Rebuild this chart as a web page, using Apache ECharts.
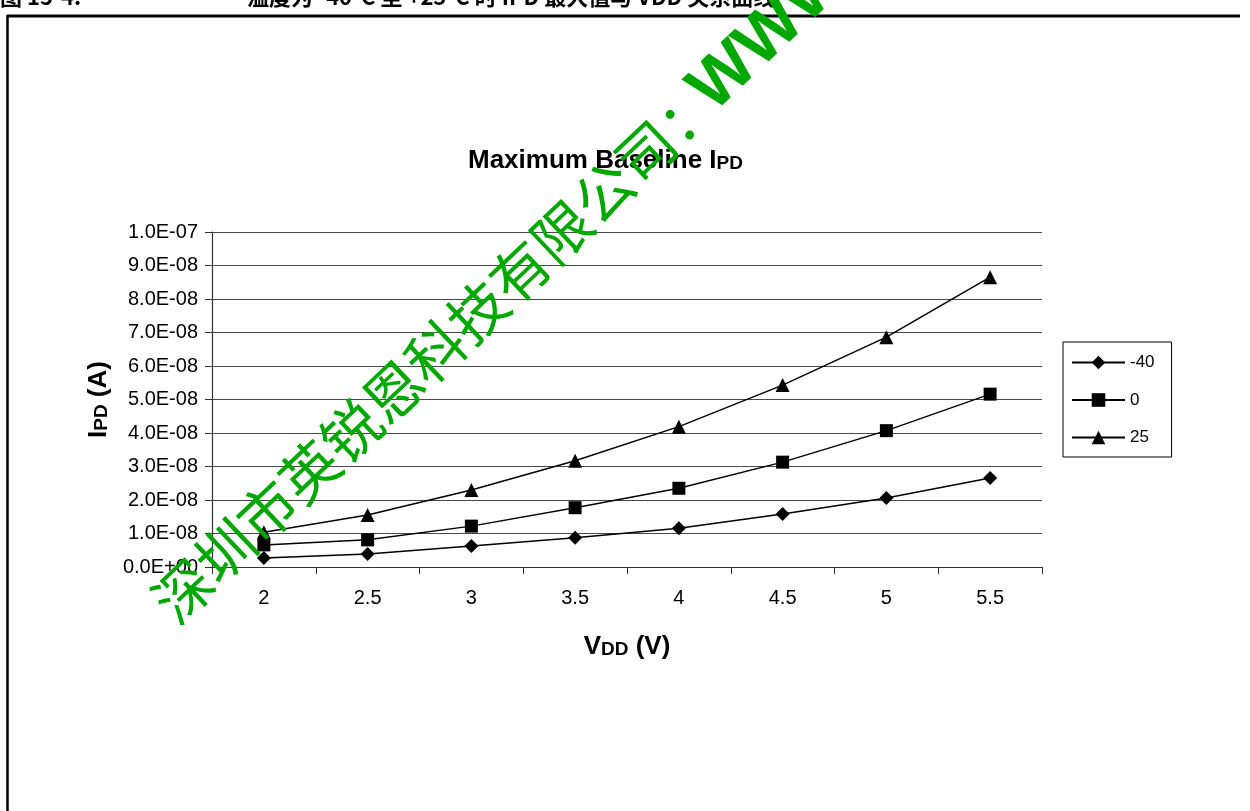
<!DOCTYPE html>
<html>
<head>
<meta charset="utf-8">
<script src="https://cdn.jsdelivr.net/npm/echarts@6/dist/echarts.min.js"></script>
<style>
html,body{margin:0;padding:0;background:#fff;}
#chart{width:1250px;height:811px;}
</style>
</head>
<body>
<div id="chart"></div>
<script>
// ---- data ----
const xCategories = ['2', '2.5', '3', '3.5', '4', '4.5', '5', '5.5'];
const seriesNames = ['-40', '0', '25'];
const ipdMinus40 = [2.7e-9, 3.9e-9, 6.3e-9, 8.7e-9, 1.16e-8, 1.58e-8, 2.06e-8, 2.66e-8];
const ipdZero = [6.6e-9, 8.1e-9, 1.22e-8, 1.77e-8, 2.35e-8, 3.13e-8, 4.07e-8, 5.16e-8];
const ipd25 = [1.04e-8, 1.55e-8, 2.3e-8, 3.17e-8, 4.19e-8, 5.43e-8, 6.86e-8, 8.65e-8];
const yTickLabels = ['0.0E+00', '1.0E-08', '2.0E-08', '3.0E-08', '4.0E-08', '5.0E-08',
                     '6.0E-08', '7.0E-08', '8.0E-08', '9.0E-08', '1.0E-07'];
const headerLeft = '图 15-4:';
const headerText = '温度为 -40°C 至 +25°C 时 IPD 最大值与 VDD 关系曲线';
const watermarkCn = '深圳市英锐恩科技有限公司';
const watermarkEn = 'WWW.ENROO.COM';

const FONT = 'Liberation Sans, Arial, sans-serif';
const GREEN = '#00a800';
const ROT = 43.5 * Math.PI / 180;
const dirX = Math.cos(ROT), dirY = -Math.sin(ROT);
const wmSize = 58;
const wmX = 162, wmY = 611;
const wmEndX = wmX + wmSize * watermarkCn.length * dirX;
const wmEndY = wmY + wmSize * watermarkCn.length * dirY;

const chart = echarts.init(document.getElementById('chart'), null, {renderer: 'canvas'});

function mkSeries(name, data, symbol, size) {
  return {
    name: name, type: 'line', data: data,
    symbol: symbol, symbolSize: size,
    lineStyle: {color: '#000', width: 1.5},
    itemStyle: {color: '#000'},
    emphasis: {disabled: true},
    animation: false
  };
}

const richName = {
  a: {fontFamily: FONT, fontSize: 26, fontWeight: 'bold', color: '#000', verticalAlign: 'bottom'},
  b: {fontFamily: FONT, fontSize: 19, fontWeight: 'bold', color: '#000', verticalAlign: 'bottom', padding: [0, 0, 1, 0]}
};

const option = {
  backgroundColor: '#fff',
  animation: false,
  title: {
    text: '{a|Maximum Baseline I}{b|PD}',
    left: 463, top: 143,
    textStyle: {rich: richName}
  },
  legend: {
    orient: 'vertical',
    left: 1063, top: 342,
    padding: [12, 17, 11, 8],
    itemWidth: 53, itemHeight: 17, itemGap: 20.5,
    borderColor: '#000', borderWidth: 1,
    textStyle: {fontFamily: FONT, fontSize: 17, color: '#000'},
    data: seriesNames
  },
  grid: {left: 212, right: 208, top: 232, bottom: 244, containLabel: false},
  xAxis: {
    type: 'category',
    data: xCategories,
    boundaryGap: true,
    name: '{a|V}{b|DD}{a| (V)}',
    nameLocation: 'middle',
    nameGap: 67,
    nameTextStyle: {verticalAlign: 'top', rich: richName},
    axisLine: {lineStyle: {color: '#333', width: 1.2}},
    axisTick: {show: true, length: 7, inside: false, alignWithLabel: false, lineStyle: {color: '#333'}},
    axisLabel: {fontFamily: FONT, fontSize: 20, color: '#000', margin: 21},
    splitLine: {show: false}
  },
  yAxis: {
    type: 'value',
    min: 0, max: 1e-7, interval: 1e-8,
    name: '{a|I}{b|PD}{a| (A)}',
    nameLocation: 'middle',
    nameGap: 98,
    nameRotate: 90,
    nameTextStyle: {rich: richName},
    axisLine: {show: true, lineStyle: {color: '#333', width: 1.2}},
    axisTick: {show: true, length: 7, inside: false, lineStyle: {color: '#333'}},
    axisLabel: {
      fontFamily: FONT, fontSize: 20, color: '#000', margin: 14,
      formatter: function (v, i) { return yTickLabels[i]; }
    },
    splitLine: {show: true, lineStyle: {color: '#4a4a4a', width: 1}}
  },
  series: [
    mkSeries(seriesNames[0], ipdMinus40, 'diamond', 14),
    mkSeries(seriesNames[1], ipdZero, 'rect', 13),
    mkSeries(seriesNames[2], ipd25, 'triangle', 14)
  ],
  graphic: [
    {type: 'line', z: 50, shape: {x1: 7, y1: 16, x2: 1240, y2: 16}, style: {stroke: '#000', lineWidth: 3}},
    {type: 'line', z: 50, shape: {x1: 7.5, y1: 15, x2: 7.5, y2: 811}, style: {stroke: '#000', lineWidth: 2.5}},
    {type: 'text', z: 50, x: 0, y: 8,
     style: {text: headerLeft, fontSize: 22, fontWeight: 'bold', fontFamily: 'Noto Sans CJK SC', fill: '#000', verticalAlign: 'bottom', align: 'left'}},
    {type: 'text', z: 50, x: 247, y: 8,
     style: {text: headerText, fontSize: 22, fontWeight: 'bold', fontFamily: 'Noto Sans CJK SC', fill: '#000', verticalAlign: 'bottom', align: 'left'}},
    {type: 'text', z: 100, x: wmX, y: wmY, rotation: ROT,
     style: {text: watermarkCn, fontSize: wmSize, fontFamily: 'Noto Sans CJK SC', fill: GREEN, verticalAlign: 'middle', align: 'left'}},
    {type: 'text', z: 100, x: wmEndX, y: wmEndY, rotation: ROT,
     style: {text: '：', fontSize: wmSize, fontFamily: 'Noto Sans CJK SC', fill: GREEN, verticalAlign: 'middle', align: 'left'}},
    {type: 'text', z: 100, x: wmEndX + wmSize * 0.8 * dirX, y: wmEndY + wmSize * 0.8 * dirY, rotation: ROT,
     style: {text: watermarkEn, fontSize: 68, fontWeight: 'bold', fontFamily: FONT, fill: GREEN, verticalAlign: 'middle', align: 'left'}}
  ]
};
chart.setOption(option);
</script>
</body>
</html>
